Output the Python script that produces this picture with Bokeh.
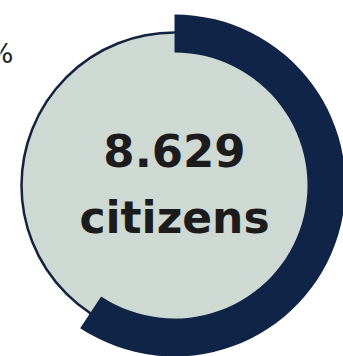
import math
from bokeh.plotting import figure
from bokeh.models import Range1d
from bokeh.core.properties import value
from bokeh.embed import file_html
from bokeh.resources import INLINE

# data
share_pct = [59.3]
share_label = ["59%"]
count_label = ["8.629"]
unit_label = ["citizens"]

W, H = 343, 356
cx, cy = 174, H - 185

p = figure(width=W, height=H, output_backend="svg", toolbar_location=None,
           x_range=Range1d(0, W), y_range=Range1d(0, H), min_border=0)
p.axis.visible = False
p.grid.visible = False
p.outline_line_color = None
p.background_fill_color = "white"
p.border_fill_color = "white"

p.circle(x=[cx], y=[cy], radius=153, fill_color="#cfd9d3",
         line_color="#13233f", line_width=2.5)

start = math.pi / 2
ends = [start - 2 * math.pi * v / 100 for v in share_pct]
p.annular_wedge(x=[cx], y=[cy], inner_radius=133, outer_radius=171,
                start_angle=[start], end_angle=ends, direction="clock",
                fill_color="#0f2447", line_color=None)

p.text(x=[13], y=[H - 53], text=share_label, text_align="right",
       text_baseline="alphabetic", text_font=value("DejaVu Sans"),
       text_font_size="27px", text_color="#222222")

p.text(x=[cx], y=[H - 150], text=count_label, text_align="center",
       text_baseline="alphabetic", text_font=value("DejaVu Sans"),
       text_font_style="bold", text_font_size="45px", text_color="#1c1c1c")
p.text(x=[cx], y=[H - 217], text=unit_label, text_align="center",
       text_baseline="alphabetic", text_font=value("DejaVu Sans"),
       text_font_style="bold", text_font_size="44px", text_color="#1c1c1c")

open("out.html", "w").write(file_html(p, INLINE))
